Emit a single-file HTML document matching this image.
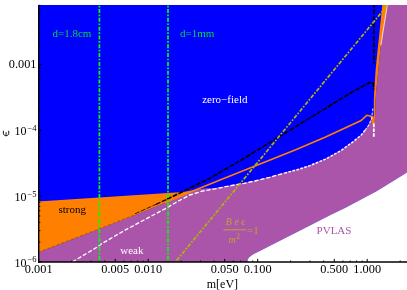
<!DOCTYPE html><html><head><meta charset="utf-8"><style>html,body{margin:0;padding:0;background:#fff}svg{display:block;will-change:transform;font-family:"Liberation Serif",serif;font-size:12px}</style></head><body>
<svg width="407" height="290" viewBox="0 0 407 290">
<rect width="407" height="290" fill="#fff"/>
<defs><clipPath id="c"><rect x="38" y="4.9" width="369" height="257.8"/></clipPath></defs>
<g clip-path="url(#c)">
<rect x="38.7" y="4.9" width="368.3" height="257.0" fill="#0000ff"/>
<polygon points="38.0,252.8 98.0,229.7 135.0,215.3 150.0,209.0 165.0,202.8 185.7,194.0 196.5,189.4 204.0,188.5 215.0,188.0 229.5,185.4 244.2,182.8 255.0,180.5 269.7,176.8 284.5,172.6 299.2,168.7 310.0,165.1 325.5,158.6 341.0,150.1 353.4,141.0 361.1,134.7 365.0,129.8 368.4,125.1 371.7,118.1 373.8,123.6 375.0,118.0 375.5,100.0 376.3,90.0 378.3,70.0 380.3,50.0 382.5,35.0 387.7,4.0 410.0,4.0 410.0,170.5 407.0,172.4 377.0,191.0 345.0,208.0 330.5,215.0 305.0,228.0 259.8,251.0 252.4,254.7 249.0,257.5 246.2,262.0 39.0,262.0" fill="#aa55aa"/>
<polygon points="246.2,262.0 249.0,257.5 252.4,254.7 259.8,251.0 305.0,228.0 330.5,215.0 345.0,208.0 377.0,191.0 407.0,172.4 410.0,170.5 410.0,270.0 246.2,270.0" fill="#fff"/>
<polygon points="38.0,201.5 183.3,191.9 196.5,189.4 185.7,194.0 165.0,202.8 150.0,209.0 135.0,215.3 98.0,229.7 38.0,252.8" fill="#ff8000"/>
<polygon points="382.4,4.0 387.7,4.0 382.5,35.0 380.3,50.0 378.3,70.0 376.3,90.0 375.5,100.0 375.0,118.0 373.8,124.2 373.8,100.0 374.3,90.0 375.6,70.0 377.6,50.0 379.2,35.0" fill="#ff8000"/>
<polyline points="387.5,4.0 382.5,35.0 381.0,45.0" fill="none" stroke="#fff" stroke-width="0.8"/>
<polyline points="165.0,202.8 185.7,194.0 196.5,189.4 225.0,178.0 295.7,149.7 325.0,137.2 345.0,128.0 361.1,120.5 366.7,115.3 371.0,116.1 373.8,123.6" fill="none" stroke="#ff8000" stroke-width="1.6"/>
<line x1="372.3" y1="116.3" x2="373.7" y2="123.8" stroke="#ff8000" stroke-width="2.4"/>
<polyline points="38.0,252.2 98.0,229.0 135.0,214.4" fill="none" stroke="#000" stroke-opacity="0.45" stroke-width="0.5" stroke-dasharray="3,2"/>
<polyline points="135.0,213.8 150.0,207.0 156.0,204.3" fill="none" stroke="#000" stroke-width="0.8" stroke-dasharray="5.0,1.4"/>
<polyline points="156.0,204.3 167.0,199.3" fill="none" stroke="#000" stroke-width="1.3" stroke-dasharray="5.0,1.4"/>
<polyline points="167.0,199.3 187.0,189.5 210.0,178.3 225.0,169.4 245.0,157.8 257.3,150.2 290.0,130.2 315.0,114.7 325.0,108.9 332.2,104.2 345.0,96.4 349.5,93.6 360.0,87.7 366.7,84.1 371.0,82.2 373.2,83.0 373.6,89.5" fill="none" stroke="#000" stroke-width="1.65" stroke-dasharray="5.0,1.4"/>
<line x1="373.9" y1="2.7" x2="373.9" y2="63.3" stroke="#000" stroke-width="1.65" stroke-dasharray="5.0,1.6"/>
<polyline points="72.5,262.0 75.2,260.2 98.0,246.6 100.5,244.4 125.0,230.2 150.0,216.8 165.0,208.8 177.4,201.6 189.8,195.0 202.2,191.2 215.0,188.9 229.5,185.9 244.2,183.3 255.0,181.0 269.7,177.3 284.5,173.1" fill="none" stroke="#fff" stroke-width="1.35" stroke-dasharray="4.2,1.9"/>
<polyline points="284.5,173.1 299.2,169.2 310.0,165.6 325.5,159.1 341.0,150.6 353.4,141.5 361.1,135.2 365.0,130.3" fill="none" stroke="#f4f4ff" stroke-width="1.5" stroke-dasharray="2.6,1.5"/>
<polyline points="365.0,130.3 368.4,125.6 371.7,118.6 372.9,108.0" fill="none" stroke="#fff" stroke-opacity="0.7" stroke-width="1.3" stroke-dasharray="2.8,1.4"/>
<line x1="373.8" y1="123.6" x2="373.8" y2="137.2" stroke="#fff" stroke-width="1.8" stroke-dasharray="3.6,1.2"/>
<line x1="175.35" y1="262" x2="388.48" y2="4" stroke="#b4b400" stroke-width="1.7" stroke-dasharray="4.0,1.5,1.7,1.58" stroke-dashoffset="6.7"/>
<line x1="99.4" y1="268.51" x2="99.4" y2="4" stroke="#00ff00" stroke-width="1.7" stroke-dasharray="4.0,1.55,1.7,1.56"/>
<line x1="168.0" y1="268.51" x2="168.0" y2="4" stroke="#00ff00" stroke-width="1.7" stroke-dasharray="4.0,1.55,1.7,1.56"/>
</g>
<line x1="38.7" y1="4.9" x2="38.7" y2="262.7" stroke="#000" stroke-width="1.4"/>
<line x1="38" y1="261.95" x2="407" y2="261.95" stroke="#000" stroke-width="1.5"/>
<line x1="38.70" y1="262" x2="38.70" y2="258.9" stroke="#000" stroke-width="1"/>
<line x1="71.66" y1="262" x2="71.66" y2="260.4" stroke="#000" stroke-width="0.8"/>
<line x1="90.94" y1="262" x2="90.94" y2="260.4" stroke="#000" stroke-width="0.8"/>
<line x1="104.63" y1="262" x2="104.63" y2="260.4" stroke="#000" stroke-width="0.8"/>
<line x1="115.24" y1="262" x2="115.24" y2="258.9" stroke="#000" stroke-width="1"/>
<line x1="123.91" y1="262" x2="123.91" y2="260.4" stroke="#000" stroke-width="0.8"/>
<line x1="131.24" y1="262" x2="131.24" y2="260.4" stroke="#000" stroke-width="0.8"/>
<line x1="137.59" y1="262" x2="137.59" y2="260.4" stroke="#000" stroke-width="0.8"/>
<line x1="143.19" y1="262" x2="143.19" y2="260.4" stroke="#000" stroke-width="0.8"/>
<line x1="148.20" y1="262" x2="148.20" y2="258.9" stroke="#000" stroke-width="1"/>
<line x1="181.16" y1="262" x2="181.16" y2="260.4" stroke="#000" stroke-width="0.8"/>
<line x1="200.44" y1="262" x2="200.44" y2="260.4" stroke="#000" stroke-width="0.8"/>
<line x1="214.13" y1="262" x2="214.13" y2="260.4" stroke="#000" stroke-width="0.8"/>
<line x1="224.74" y1="262" x2="224.74" y2="258.9" stroke="#000" stroke-width="1"/>
<line x1="233.41" y1="262" x2="233.41" y2="260.4" stroke="#000" stroke-width="0.8"/>
<line x1="240.74" y1="262" x2="240.74" y2="260.4" stroke="#000" stroke-width="0.8"/>
<line x1="247.09" y1="262" x2="247.09" y2="260.4" stroke="#000" stroke-width="0.8"/>
<line x1="252.69" y1="262" x2="252.69" y2="260.4" stroke="#000" stroke-width="0.8"/>
<line x1="257.70" y1="262" x2="257.70" y2="258.9" stroke="#000" stroke-width="1"/>
<line x1="290.66" y1="262" x2="290.66" y2="260.4" stroke="#000" stroke-width="0.8"/>
<line x1="309.94" y1="262" x2="309.94" y2="260.4" stroke="#000" stroke-width="0.8"/>
<line x1="323.63" y1="262" x2="323.63" y2="260.4" stroke="#000" stroke-width="0.8"/>
<line x1="334.24" y1="262" x2="334.24" y2="258.9" stroke="#000" stroke-width="1"/>
<line x1="342.91" y1="262" x2="342.91" y2="260.4" stroke="#000" stroke-width="0.8"/>
<line x1="350.24" y1="262" x2="350.24" y2="260.4" stroke="#000" stroke-width="0.8"/>
<line x1="356.59" y1="262" x2="356.59" y2="260.4" stroke="#000" stroke-width="0.8"/>
<line x1="362.19" y1="262" x2="362.19" y2="260.4" stroke="#000" stroke-width="0.8"/>
<line x1="367.20" y1="262" x2="367.20" y2="258.9" stroke="#000" stroke-width="1"/>
<line x1="400.16" y1="262" x2="400.16" y2="260.4" stroke="#000" stroke-width="0.8"/>
<line x1="38.7" y1="261.90" x2="41.7" y2="261.90" stroke="#000" stroke-width="1"/>
<line x1="38.7" y1="242.11" x2="40.300000000000004" y2="242.11" stroke="#000" stroke-width="1"/>
<line x1="38.7" y1="230.53" x2="40.300000000000004" y2="230.53" stroke="#000" stroke-width="1"/>
<line x1="38.7" y1="222.31" x2="40.300000000000004" y2="222.31" stroke="#000" stroke-width="1"/>
<line x1="38.7" y1="215.94" x2="40.300000000000004" y2="215.94" stroke="#000" stroke-width="1"/>
<line x1="38.7" y1="210.74" x2="40.300000000000004" y2="210.74" stroke="#000" stroke-width="1"/>
<line x1="38.7" y1="206.33" x2="40.300000000000004" y2="206.33" stroke="#000" stroke-width="1"/>
<line x1="38.7" y1="202.52" x2="40.300000000000004" y2="202.52" stroke="#000" stroke-width="1"/>
<line x1="38.7" y1="199.16" x2="40.300000000000004" y2="199.16" stroke="#000" stroke-width="1"/>
<line x1="38.7" y1="196.15" x2="41.7" y2="196.15" stroke="#000" stroke-width="1"/>
<line x1="38.7" y1="176.36" x2="40.300000000000004" y2="176.36" stroke="#000" stroke-width="1"/>
<line x1="38.7" y1="164.78" x2="40.300000000000004" y2="164.78" stroke="#000" stroke-width="1"/>
<line x1="38.7" y1="156.56" x2="40.300000000000004" y2="156.56" stroke="#000" stroke-width="1"/>
<line x1="38.7" y1="150.19" x2="40.300000000000004" y2="150.19" stroke="#000" stroke-width="1"/>
<line x1="38.7" y1="144.99" x2="40.300000000000004" y2="144.99" stroke="#000" stroke-width="1"/>
<line x1="38.7" y1="140.58" x2="40.300000000000004" y2="140.58" stroke="#000" stroke-width="1"/>
<line x1="38.7" y1="136.77" x2="40.300000000000004" y2="136.77" stroke="#000" stroke-width="1"/>
<line x1="38.7" y1="133.41" x2="40.300000000000004" y2="133.41" stroke="#000" stroke-width="1"/>
<line x1="38.7" y1="130.40" x2="41.7" y2="130.40" stroke="#000" stroke-width="1"/>
<line x1="38.7" y1="110.61" x2="40.300000000000004" y2="110.61" stroke="#000" stroke-width="1"/>
<line x1="38.7" y1="99.03" x2="40.300000000000004" y2="99.03" stroke="#000" stroke-width="1"/>
<line x1="38.7" y1="90.81" x2="40.300000000000004" y2="90.81" stroke="#000" stroke-width="1"/>
<line x1="38.7" y1="84.44" x2="40.300000000000004" y2="84.44" stroke="#000" stroke-width="1"/>
<line x1="38.7" y1="79.24" x2="40.300000000000004" y2="79.24" stroke="#000" stroke-width="1"/>
<line x1="38.7" y1="74.83" x2="40.300000000000004" y2="74.83" stroke="#000" stroke-width="1"/>
<line x1="38.7" y1="71.02" x2="40.300000000000004" y2="71.02" stroke="#000" stroke-width="1"/>
<line x1="38.7" y1="67.66" x2="40.300000000000004" y2="67.66" stroke="#000" stroke-width="1"/>
<line x1="38.7" y1="64.65" x2="41.7" y2="64.65" stroke="#000" stroke-width="1"/>
<line x1="38.7" y1="44.86" x2="40.300000000000004" y2="44.86" stroke="#000" stroke-width="1"/>
<line x1="38.7" y1="33.28" x2="40.300000000000004" y2="33.28" stroke="#000" stroke-width="1"/>
<line x1="38.7" y1="25.06" x2="40.300000000000004" y2="25.06" stroke="#000" stroke-width="1"/>
<line x1="38.7" y1="18.69" x2="40.300000000000004" y2="18.69" stroke="#000" stroke-width="1"/>
<line x1="38.7" y1="13.49" x2="40.300000000000004" y2="13.49" stroke="#000" stroke-width="1"/>
<line x1="38.7" y1="9.08" x2="40.300000000000004" y2="9.08" stroke="#000" stroke-width="1"/>
<line x1="38.7" y1="5.27" x2="40.300000000000004" y2="5.27" stroke="#000" stroke-width="1"/>
<text x="38.7" y="273.4" text-anchor="middle" style="font-size:12.3px">0.001</text>
<text x="115.2" y="273.4" text-anchor="middle" style="font-size:12.3px">0.005</text>
<text x="148.2" y="273.4" text-anchor="middle" style="font-size:12.3px">0.010</text>
<text x="224.7" y="273.4" text-anchor="middle" style="font-size:12.3px">0.050</text>
<text x="257.7" y="273.4" text-anchor="middle" style="font-size:12.3px">0.100</text>
<text x="334.2" y="273.4" text-anchor="middle" style="font-size:12.3px">0.500</text>
<text x="367.2" y="273.4" text-anchor="middle" style="font-size:12.3px">1.000</text>
<text x="36.5" y="68.3" text-anchor="end" style="font-size:12.3px">0.001</text>
<text x="26.6" y="135.4" text-anchor="end">10</text>
<text x="27.5" y="130.9" style="font-size:8.5px">−4</text>
<text x="26.6" y="201.1" text-anchor="end">10</text>
<text x="27.5" y="196.6" style="font-size:8.5px">−5</text>
<text x="26.6" y="266.9" text-anchor="end">10</text>
<text x="27.5" y="262.4" style="font-size:8.5px">−6</text>
<text x="222.4" y="287.8" text-anchor="middle">m[eV]</text>
<path d="M3.35,131.2 C2.9,134.6 4.3,135.7 6.05,135.7 C7.8,135.7 9.2,134.6 8.75,131.2" fill="none" stroke="#000" stroke-width="0.95" stroke-linecap="round"/>
<path d="M6.05,135.7 L6.05,132.5" fill="none" stroke="#000" stroke-width="0.85" stroke-linecap="round"/>
<g style="font-size:11px">
<text x="52.5" y="36.5" fill="#00dd33">d=1.8cm</text>
<text x="180" y="36.5" fill="#00dd33">d=1mm</text>
<text x="202.2" y="102.5" fill="#fff">zero−field</text>
<text x="58.5" y="212.8" fill="#000">strong</text>
<text x="120.3" y="254" fill="#fff">weak</text>
<text x="316.6" y="234" fill="#aa55aa">PVLAS</text>
</g>
<g fill="#bca530"><text x="235.6" y="224.6" text-anchor="middle" style="font-style:italic;font-size:10px">B e ϵ</text>
<line x1="223.3" y1="229.8" x2="246.1" y2="229.8" stroke="#bca530" stroke-width="1"/>
<text x="232.1" y="243" text-anchor="middle" style="font-style:italic;font-size:10px">m</text><text x="236.2" y="239.3" style="font-size:7.5px">2</text>
<text x="247" y="233.6" style="font-size:11px">=1</text></g>
</svg></body></html>
